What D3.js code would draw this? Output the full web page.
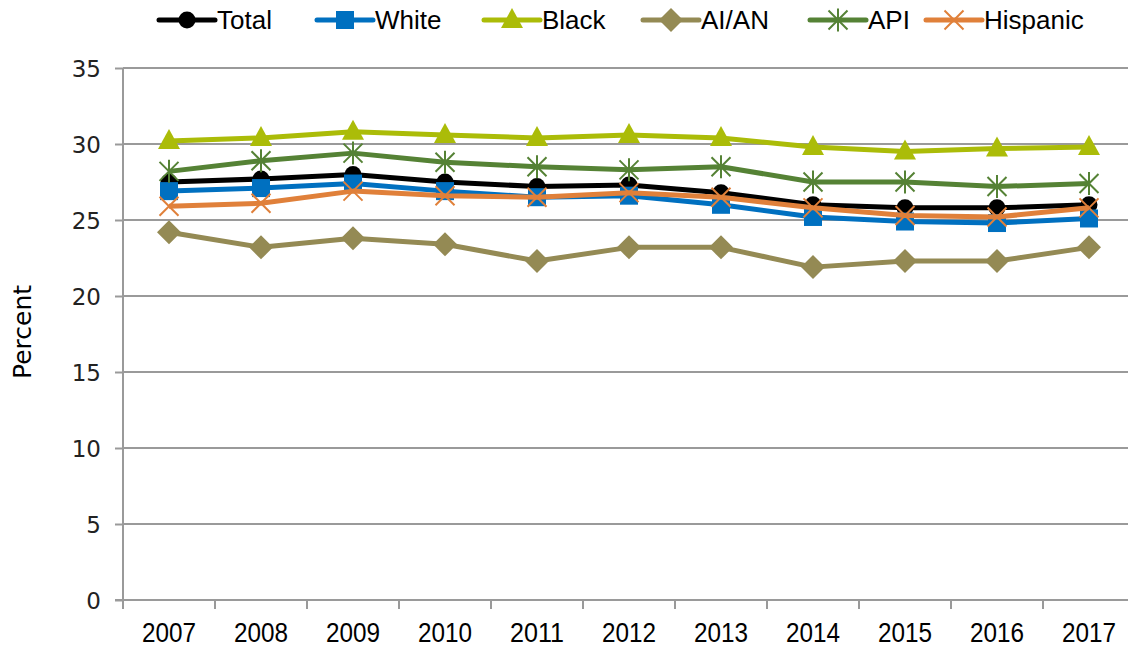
<!DOCTYPE html>
<html>
<head>
<meta charset="utf-8">
<script src="https://cdn.jsdelivr.net/npm/d3@7"></script>
<style>
  html, body { margin: 0; padding: 0; background: #fff; }
  svg { display: block; }
</style>
</head>
<body>
<svg id="chart" width="1128" height="647"></svg>
<script>
// ---- data ----
const years = ["2007","2008","2009","2010","2011","2012","2013","2014","2015","2016","2017"];
const seriesNames = ["Total", "White", "Black", "AI/AN", "API", "Hispanic"];
const total    = [27.5, 27.7, 28.0, 27.5, 27.2, 27.3, 26.8, 26.0, 25.8, 25.8, 26.0];
const white    = [26.9, 27.1, 27.4, 26.9, 26.5, 26.6, 26.0, 25.2, 24.9, 24.8, 25.1];
const black    = [30.2, 30.4, 30.8, 30.6, 30.4, 30.6, 30.4, 29.8, 29.5, 29.7, 29.8];
const aian     = [24.2, 23.2, 23.8, 23.4, 22.3, 23.2, 23.2, 21.9, 22.3, 22.3, 23.2];
const api      = [28.2, 28.9, 29.4, 28.8, 28.5, 28.3, 28.5, 27.5, 27.5, 27.2, 27.4];
const hispanic = [25.9, 26.1, 26.9, 26.6, 26.5, 26.8, 26.5, 25.8, 25.3, 25.2, 25.8];
const yTicks   = [0, 5, 10, 15, 20, 25, 30, 35];
const yLabel   = "Percent";

// ---- styles ----
const colors  = ["#000000", "#0070C0", "#ABBC08", "#948A54", "#558235", "#E0803A"];
const markers = ["circle", "square", "triangle", "diamond", "star", "x"];
const legendX = [159, 317, 484, 643, 810, 926];

const seriesValues = [total, white, black, aian, api, hispanic];
const series = seriesNames.map((name, i) => ({
  name, color: colors[i], marker: markers[i],
  values: years.map((yr, j) => ({ year: yr, value: seriesValues[i][j] }))
}));

const svg = d3.select("#chart");
const pLeft = 123, pRight = 1135, pTop = 68, pBottom = 600;
const x = d3.scaleBand().domain(years).range([pLeft, pRight]).padding(0);
const y = d3.scaleLinear().domain([0, 35]).range([pBottom, pTop]);
const cx = d => x(d) + x.bandwidth() / 2;
const axisColor = "#9a9a9a";

// gridlines
svg.append("g").selectAll("line").data(yTicks).join("line")
  .attr("x1", pLeft).attr("x2", pRight)
  .attr("y1", d => y(d)).attr("y2", d => y(d))
  .attr("stroke", axisColor).attr("stroke-width", 2);

// y axis
const yAxis = svg.append("g").attr("transform", `translate(${pLeft},0)`)
  .call(d3.axisLeft(y).tickValues(yTicks).tickSize(8).tickPadding(14).tickFormat(d3.format("d")));
yAxis.select(".domain").attr("stroke", axisColor).attr("stroke-width", 2)
  .attr("d", `M0,${pTop}V${pBottom}`);
yAxis.selectAll(".tick line").attr("stroke", axisColor).attr("stroke-width", 2);
yAxis.selectAll(".tick text").attr("font-family", "DejaVu Sans").attr("font-size", 23)
  .attr("fill", "#222").attr("dy", "0.36em");

// x axis
const xAxis = svg.append("g").attr("transform", `translate(0,${pBottom})`)
  .call(d3.axisBottom(x).tickSize(0).tickPadding(0));
xAxis.select(".domain").attr("stroke", axisColor).attr("stroke-width", 2)
  .attr("d", `M${pLeft - 8},0H${pRight}`);
xAxis.selectAll(".tick text").attr("font-family", "Liberation Sans").attr("font-size", 28)
  .attr("fill", "#000").attr("y", 42).attr("dy", 0)
  .attr("textLength", 54).attr("lengthAdjust", "spacingAndGlyphs");
// boundary tick marks
const bounds = years.map(d => x(d)).concat([pRight]);
svg.append("g").selectAll("line").data(bounds).join("line")
  .attr("x1", d => d).attr("x2", d => d)
  .attr("y1", pBottom).attr("y2", pBottom + 9)
  .attr("stroke", axisColor).attr("stroke-width", 2);

// y label
svg.append("text").attr("transform", "translate(31,332) rotate(-90)")
  .attr("text-anchor", "middle").attr("font-family", "DejaVu Sans").attr("font-size", 25)
  .attr("fill", "#000").text(yLabel);

// marker drawing
function drawMarker(g, type, color, px, py) {
  if (type === "circle") {
    g.append("circle").attr("cx", px).attr("cy", py).attr("r", 8.5).attr("fill", color);
  } else if (type === "square") {
    g.append("rect").attr("x", px - 9).attr("y", py - 9).attr("width", 18).attr("height", 18).attr("fill", color);
  } else if (type === "triangle") {
    g.append("path").attr("d", `M${px},${py - 12}L${px + 11},${py + 8}L${px - 11},${py + 8}Z`).attr("fill", color);
  } else if (type === "diamond") {
    g.append("path").attr("d", `M${px},${py - 12}L${px + 12},${py}L${px},${py + 12}L${px - 12},${py}Z`).attr("fill", color);
  } else if (type === "star") {
    const s = 9.5;
    g.append("path").attr("d",
      `M${px - s},${py - s}L${px + s},${py + s}M${px - s},${py + s}L${px + s},${py - s}M${px},${py - s - 2}L${px},${py + s + 2}`)
      .attr("stroke", color).attr("stroke-width", 2).attr("fill", "none");
  } else if (type === "x") {
    const s = 9.5;
    g.append("path").attr("d",
      `M${px - s},${py - s}L${px + s},${py + s}M${px - s},${py + s}L${px + s},${py - s}`)
      .attr("stroke", color).attr("stroke-width", 2).attr("fill", "none");
  }
}

// lines and markers
const line = d3.line().x(d => cx(d.year)).y(d => y(d.value));
series.forEach(s => {
  const g = svg.append("g");
  g.append("path").datum(s.values).attr("d", line)
    .attr("fill", "none").attr("stroke", s.color).attr("stroke-width", 5)
    .attr("stroke-linejoin", "round");
  s.values.forEach(d => drawMarker(g, s.marker, s.color, cx(d.year), y(d.value)));
});

// legend
const legendY = 20;
series.forEach((s, i) => {
  const g = svg.append("g");
  const x0 = legendX[i];
  g.append("line").attr("x1", x0).attr("x2", x0 + 56).attr("y1", legendY).attr("y2", legendY)
    .attr("stroke", s.color).attr("stroke-width", 5).attr("stroke-linecap", "round");
  drawMarker(g, s.marker, s.color, x0 + 28, legendY);
  g.append("text").attr("x", x0 + 58).attr("y", legendY + 9)
    .attr("font-family", "Liberation Sans").attr("font-size", 26).attr("fill", "#000").text(s.name);
});
</script>
</body>
</html>
